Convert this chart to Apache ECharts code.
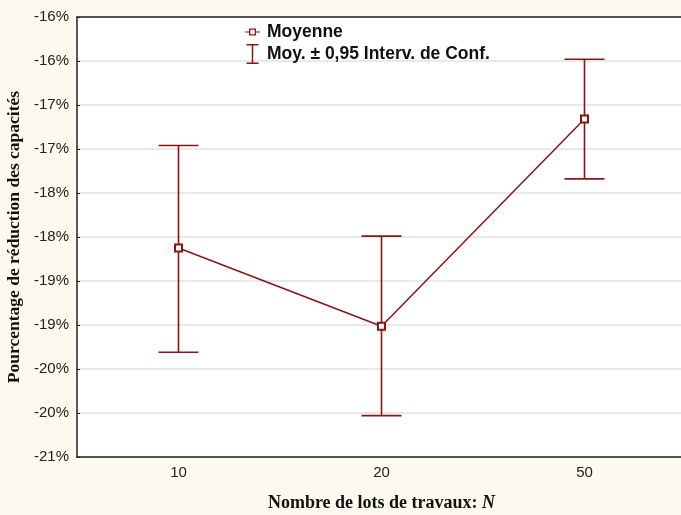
<!DOCTYPE html>
<html>
<head>
<meta charset="utf-8">
<script src="https://cdn.jsdelivr.net/npm/echarts@6/dist/echarts.min.js"></script>
<style>
html,body{margin:0;padding:0;background:#fdf9ee;}
#chart{width:681px;height:515px;}
</style>
</head>
<body>
<div id="chart"></div>
<script>
var categories = ['10', '20', '50'];
var meanValues = [-18.125, -19.015, -16.66];
var upperValues = [-16.96, -17.99, -15.98];
var lowerValues = [-19.31, -20.03, -17.34];
var yTickLabels = ['-21%', '-20%', '-20%', '-19%', '-19%', '-18%', '-18%', '-17%', '-17%', '-16%', '-16%'];
var yMin = -20.5, yMax = -15.5, yStep = 0.5;

var RED = '#8b1414';
var chart = echarts.init(document.getElementById('chart'), null, {renderer: 'canvas'});

var errData = categories.map(function (c, i) { return [i, lowerValues[i], upperValues[i]]; });

var iconMean = 'path://M0,2.9L4,2.9L4,0L11,0L11,2.9L15,2.9L15,4.1L11,4.1L11,7L4,7L4,4.1L0,4.1ZM5.3,1.3L5.3,5.7L9.7,5.7L9.7,1.3Z';
var iconErr = 'path://M0,0L12,0L12,1.5L6.75,1.5L6.75,18.5L12,18.5L12,20L0,20L0,18.5L5.25,18.5L5.25,1.5L0,1.5Z';

chart.setOption({
  backgroundColor: '#fdf9ee',
  animation: false,
  grid: {left: 77, top: 17, right: -5, bottom: 58, show: true, backgroundColor: '#ffffff', borderWidth: 0,
    containLabel: false, outerBoundsMode: 'none'},
  legend: {
    orient: 'vertical', left: 245, top: 23, padding: 0, itemWidth: 15, itemHeight: 20, itemGap: 3,
    textStyle: {fontFamily: 'Liberation Sans, Arial', fontWeight: 'bold', fontSize: 17.5, color: '#111', padding: [0, 0, 0, 2]},
    data: [
      {name: 'Moyenne', icon: iconMean, itemStyle: {color: RED}},
      {name: 'Moy. ± 0,95 Interv. de Conf.', icon: iconErr, itemStyle: {color: RED}}
    ]
  },
  xAxis: [{
    type: 'category', data: categories, position: 'bottom',
    axisLine: {lineStyle: {color: '#222', width: 1.5}},
    axisTick: {alignWithLabel: true, inside: true, length: 4, lineStyle: {color: '#222'}},
    axisLabel: {fontFamily: 'Liberation Sans, Arial', fontSize: 15, color: '#222', margin: 8},
    splitLine: {show: false},
    name: '{a|Nombre de lots de travaux: }{b|N}', nameLocation: 'middle', nameGap: 37,
    nameTextStyle: {rich: {
      a: {fontFamily: 'Liberation Serif, Times New Roman', fontWeight: 'bold', fontSize: 18, color: '#111'},
      b: {fontFamily: 'Liberation Serif, Times New Roman', fontWeight: 'bold', fontStyle: 'italic', fontSize: 18, color: '#111'}
    }}
  }, {
    type: 'category', data: categories, position: 'top',
    axisLine: {lineStyle: {color: '#222', width: 1.5}},
    axisTick: {alignWithLabel: true, inside: true, length: 4, lineStyle: {color: '#222'}},
    axisLabel: {show: false}, splitLine: {show: false}
  }],
  yAxis: {
    type: 'value', min: yMin, max: yMax, interval: yStep,
    axisLine: {show: true, lineStyle: {color: '#222', width: 1.5}},
    axisTick: {show: true, inside: true, length: 3, lineStyle: {color: '#222'}},
    axisLabel: {fontFamily: 'Liberation Sans, Arial', fontSize: 15, color: '#222', margin: 8,
      formatter: function (v) { return yTickLabels[Math.round((v - yMin) / yStep)]; }},
    splitLine: {lineStyle: {color: '#e2e2e2', width: 1.5}},
    name: 'Pourcentage de réduction des capacités', nameLocation: 'middle', nameGap: 53,
    nameTextStyle: {fontFamily: 'Liberation Serif, Times New Roman', fontWeight: 'bold', fontSize: 17.5, color: '#111'}
  },
  series: [{
    name: 'Moy. ± 0,95 Interv. de Conf.', type: 'custom', data: errData,
    itemStyle: {color: RED},
    renderItem: function (params, api) {
      var lo = api.coord([api.value(0), api.value(1)]);
      var hi = api.coord([api.value(0), api.value(2)]);
      var hw = 20;
      var st = {stroke: RED, lineWidth: 1.6};
      return {type: 'group', children: [
        {type: 'line', shape: {x1: lo[0], y1: lo[1], x2: hi[0], y2: hi[1]}, style: st},
        {type: 'line', shape: {x1: lo[0] - hw, y1: lo[1], x2: lo[0] + hw, y2: lo[1]}, style: st},
        {type: 'line', shape: {x1: hi[0] - hw, y1: hi[1], x2: hi[0] + hw, y2: hi[1]}, style: st}
      ]};
    },
    z: 2
  }, {
    name: 'Moyenne', type: 'line', data: meanValues,
    symbol: 'emptyRect', symbolSize: 7,
    itemStyle: {color: RED, borderWidth: 1.4},
    lineStyle: {color: RED, width: 1.5},
    z: 3
  }]
});
</script>
</body>
</html>
